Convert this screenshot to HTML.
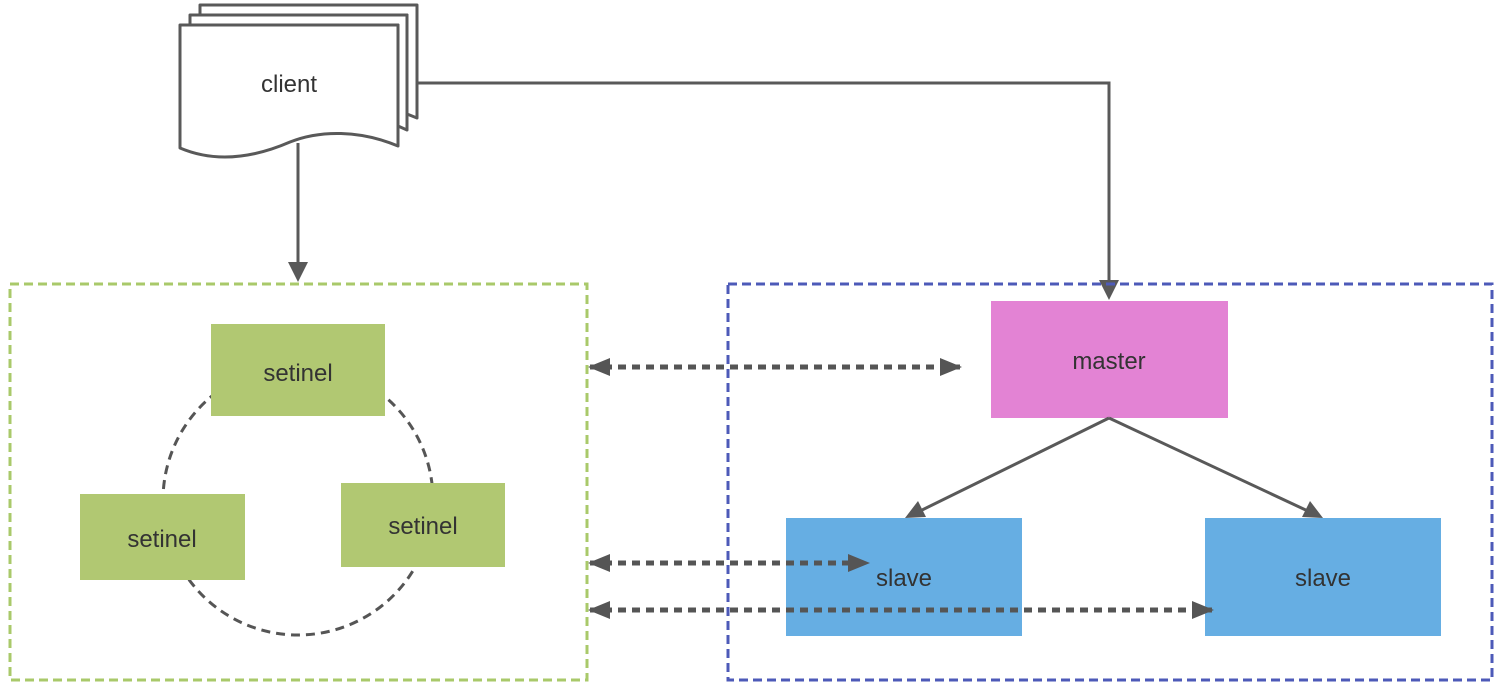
<!DOCTYPE html>
<html><head><style>body{margin:0;background:#fff}svg{display:block}text{font-family:"Liberation Sans",sans-serif;fill:#333}</style></head><body>
<svg width="1502" height="686" viewBox="0 0 1502 686" xmlns="http://www.w3.org/2000/svg">
<defs><marker id="a" markerWidth="10" markerHeight="10" refX="9" refY="5" orient="auto" markerUnits="userSpaceOnUse" viewBox="0 0 10 10"><path d="M0,0L10,5L0,10z" fill="#555"/></marker>
<marker id="b" markerWidth="22" markerHeight="22" refX="20" refY="11" orient="auto-start-reverse" markerUnits="userSpaceOnUse" viewBox="0 0 22 22"><path d="M0,2L22,11L0,20z" fill="#555"/></marker></defs>
<g fill="#fff" stroke="#595959" stroke-width="3" stroke-linejoin="round">
<path d="M200,5H417V118L407,114V15H200Z"/>
<path d="M190,15H407V130L398,126V25H190Z"/>
<path d="M180,25H398V146C360,130 320,130 290,142C260,155 220,165 180,148Z"/>
</g>
<text x="289" y="92" font-size="24" text-anchor="middle">client</text>
<g stroke="#595959" stroke-width="3" fill="none">
<path d="M418,83H1109V280"/>
<path d="M298,143V262"/>
</g>
<path d="M288,262L298,282L308,262z" fill="#595959"/>
<path d="M1099,280L1109,300L1119,280z" fill="#595959"/>
<rect x="10" y="284" width="577" height="396" fill="none" stroke="#a9c96a" stroke-width="3" stroke-dasharray="9,5"/>
<rect x="728" y="284" width="764" height="396" fill="none" stroke="#4d5ab8" stroke-width="3" stroke-dasharray="9,5"/>
<circle cx="298" cy="500" r="135" fill="none" stroke="#555" stroke-width="3" stroke-dasharray="9,6"/>
<rect x="211" y="324" width="174" height="92" fill="#b1c872"/>
<rect x="80" y="494" width="165" height="86" fill="#b1c872"/>
<rect x="341" y="483" width="164" height="84" fill="#b1c872"/>
<text x="298" y="381" font-size="24" text-anchor="middle">setinel</text>
<text x="162" y="547" font-size="24" text-anchor="middle">setinel</text>
<text x="423" y="534" font-size="24" text-anchor="middle">setinel</text>
<rect x="991" y="301" width="237" height="117" fill="#e383d4"/>
<text x="1109" y="369" font-size="24" text-anchor="middle">master</text>
<rect x="786" y="518" width="236" height="118" fill="#66aee3"/>
<rect x="1205" y="518" width="236" height="118" fill="#66aee3"/>
<text x="904" y="586" font-size="24" text-anchor="middle">slave</text>
<text x="1323" y="586" font-size="24" text-anchor="middle">slave</text>
<g stroke="#595959" stroke-width="3">
<line x1="1109" y1="418" x2="918" y2="512"/>
<line x1="1109" y1="418" x2="1310" y2="512"/>
</g>
<path d="M905,518L918,501L926,517z" fill="#595959"/>
<path d="M1323,518L1302,517L1310,501z" fill="#595959"/>
<g stroke="#555" stroke-width="5" stroke-dasharray="8,6" fill="none">
<line x1="590" y1="367" x2="960" y2="367" marker-start="url(#b)" marker-end="url(#b)"/>
<line x1="590" y1="563" x2="868" y2="563" marker-start="url(#b)" marker-end="url(#b)"/>
<line x1="590" y1="610" x2="1212" y2="610" marker-start="url(#b)" marker-end="url(#b)"/>
</g>
</svg>
</body></html>
